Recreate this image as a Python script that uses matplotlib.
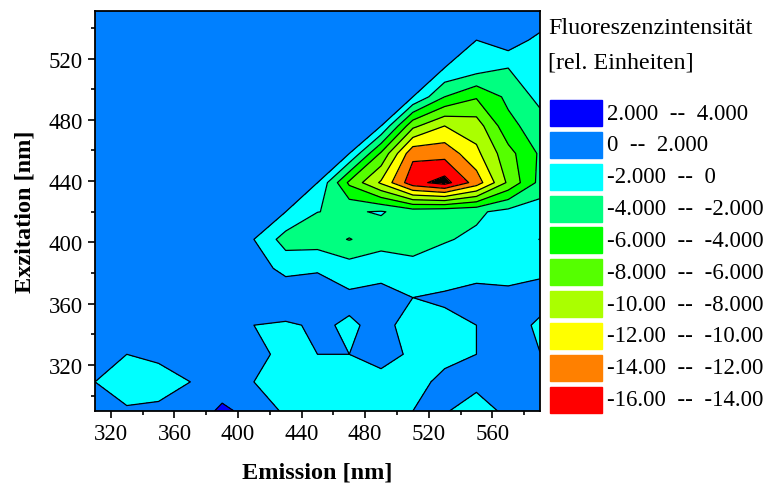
import numpy as np
import matplotlib.pyplot as plt
from matplotlib.patches import Rectangle
from matplotlib.ticker import MultipleLocator

# grid of the excitation-emission matrix
emission = [310, 330, 350, 370, 390, 410, 430, 450, 470, 490, 510, 530, 550, 570, 590]
excitation = [290, 309, 327, 346, 364, 383, 402, 420, 439, 458, 476, 495, 514, 532, 551]

# fluorescence intensity, one row per excitation wavelength (bottom row first)
intensity = [
    [0.3, 0.23, 0.39, 0, 2.63, 0.93, -0.23, -0.8, -1.2, -1.0, 0, 0.09, -0.5, 0.25, 0.8],
    [0, -1.0, -0.8, 0, 0.3, 0, -0.8, -1.0, -1.0, -0.46, -0.73, 0.55, 0.28, 0.6, 0.7],
    [0.4, 0, 0.39, 0.5, 0.5, 0.54, -0.5, 0, 0, 0.5, -0.22, -0.6, 0, 0.8, 0.03],
    [0.5, 0.5, 0.5, 0.5, 0.5, 0, -0.25, 0.25, -0.21, 0.41, -0.54, -0.5, 0, 1.03, -0.4],
    [0.5, 0.5, 0.5, 0.5, 0.5, 0.8, 1.54, 1.13, 0.39, 0.6, 0, 0.28, 0.77, 0.6, 0.9],
    [0.5, 0.5, 0.5, 0.5, 0.5, 0.94, -0.6, -0.2, -1.01, -0.62, -1.57, -1.0, -0.8, -0.9, -0.5],
    [0, 0, 0, 0, 0, 0, -2.86, -2.97, -4.1, -2.92, -2.6, -2.15, -1.65, -1.2, -2.03],
    [0, 0, 0, 0, 0, 0, 0, -1.98, -2.2, -1.85, -2.85, -2.5, -2.33, -1.39, -0.85],
    [0, 0, 0, 0, 0, 0, 0, 0, -6.4, -10.3, -15.3, -16.8, -13.1, -7.6, -3.4],
    [0, 0, 0, 0, 0, 0, 0, 0, 0, -6.3, -13.5, -13.3, -10.5, -6.7, -3.7],
    [0, 0, 0, 0, 0, 0, 0, 0, 0, 0, -7.5, -10.0, -9.0, -4.6, -2.92],
    [0, 0, 0, 0, 0, 0, 0, 0, 0, 0, 0, -4.0, -5.8, -3.52, -1.41],
    [0, 0, 0, 0, 0, 0, 0, 0, 0, 0, 0, 0, -1.0, -1.98, -1.5],
    [0, 0, 0, 0, 0, 0, 0, 0, 0, 0, 0, 0, 0, 1.23, -0.69],
    [0, 0, 0, 0, 0, 0, 0, 0, 0, 0, 0, 0, 0, 0, 1.9],
]

levels = [-18, -16, -14, -12, -10, -8, -6, -4, -2, 0, 2, 4]
band_colors = ['#000000', '#ff0000', '#ff8000', '#ffff00', '#aaff00', '#55ff00',
               '#00ff00', '#00ff80', '#00ffff', '#0080ff', '#0000ff']

plt.rcParams['font.family'] = ['Liberation Serif', 'DejaVu Serif']

W, H = 765, 485
fig = plt.figure(figsize=(W / 100, H / 100), dpi=100)
ax = fig.add_axes([95 / W, 1 - 412 / H, 445 / W, 400 / H])

Z = np.array(intensity)
# zero counts to the "0 -- 2" band, so put that boundary just below zero
cuts = [lv if lv != 0 else -1e-9 for lv in levels]
ax.contourf(emission, excitation, Z, levels=cuts, colors=band_colors)
ax.contour(emission, excitation, Z, levels=cuts[1:-1], colors='k',
           linewidths=0.9, linestyles='solid')

ax.set_xlim(emission[0], emission[-1])
ax.set_ylim(excitation[0], excitation[-1])
ax.set_xticks(range(320, 561, 40))
ax.set_yticks(range(320, 521, 40))
ax.xaxis.set_minor_locator(MultipleLocator(20))
ax.yaxis.set_minor_locator(MultipleLocator(20))
ax.tick_params(which='major', direction='out', length=5, width=1.2, labelsize=16.5, pad=4)
ax.tick_params(which='minor', direction='out', length=3, width=1.2)
for sp in ax.spines.values():
    sp.set_linewidth(1.3)

ax.set_xlabel('Emission [nm]', fontsize=17.5, fontweight='bold', labelpad=12)
ax.set_ylabel('Exzitation [nm]', fontsize=17.5, fontweight='bold', labelpad=9)


def fmt(v):
    return '0' if v == 0 else f'{v:#.4g}'


# legend column on the right
fig.text(548 / W, 1 - 29 / H, 'Fluoreszenzintensität', fontsize=17.3, va='center')
fig.text(548 / W, 1 - 63 / H, '[rel. Einheiten]', fontsize=17.3, va='center')
top, step, box_h = 101, 31.85, 26
for i, k in enumerate(range(len(band_colors) - 1, 0, -1)):
    y0 = top + i * step
    fig.patches.append(Rectangle((550 / W, 1 - (y0 + box_h) / H), 52 / W, box_h / H,
                                 transform=fig.transFigure, color=band_colors[k]))
    fig.text(607 / W, 1 - (y0 + box_h / 2) / H,
             f'{fmt(levels[k])}  --  {fmt(levels[k + 1])}', fontsize=16.5, va='center')

fig.savefig('out.png', dpi=100)
